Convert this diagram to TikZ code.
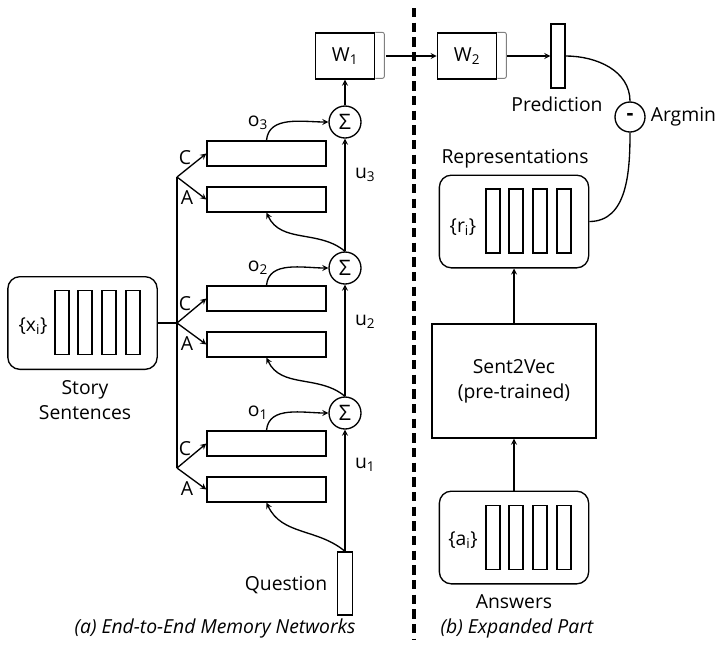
\documentclass[tikz,border=0pt]{standalone}
\usepackage{fontspec}
\setmainfont{Open Sans}
\tikzset{>=stealth}
\usetikzlibrary{positioning}
\tikzset{
        membox/.style={draw,minimum width=89.25pt,minimum height=18.75pt,inner sep=0pt},
        wbox/.style={draw,minimum width=44.5pt,minimum height=34.5pt,inner sep=0pt},
        vbar/.style={draw,minimum width=10.5pt,minimum height=48pt,inner sep=0pt},
        sumnode/.style={draw,circle,minimum size=24pt,inner sep=0pt,font=\fontsize{16}{18}\selectfont},
        setbox/.style={draw,rounded corners=9pt,minimum width=112pt,minimum height=69.5pt,inner sep=0pt},
        bigbox/.style={draw,minimum width=123pt,minimum height=85.5pt,align=center},
        wtail/.style={draw=gray,line width=0.7pt,rounded corners=1.5pt}
}

\begin{document}
\begin{tikzpicture}[x=0.75pt,y=-0.75pt,line width=1pt,
        every node/.style={font=\fontsize{14.5}{18.75}\selectfont}]
        \useasboundingbox (0,0) rectangle (716,644);
        % story sentences
        \node[setbox] (story) at (82.5,323) {};
        \node[vbar] (x1) at (62,322.5) {};
        \node[vbar] (x2) at (85,322.5) {};
        \node[vbar] (x3) at (109,322.5) {};
        \node[vbar] (x4) at (133,322.5) {};
        \node (xi) at (33,326) {\{x\textsubscript{i}\}};
        \node[align=center] (storylab) at (85,400) {Story\\Sentences};
        \coordinate (b3) at (177,177);
        \coordinate (b2) at (177,323);
        \coordinate (b1) at (177,468);
        % memory layers
        \node[membox] (C3) at (266.5,153.5) {};
        \node[membox] (A3) at (266.5,199.5) {};
        \node[membox] (C2) at (266.5,298.5) {};
        \node[membox] (A2) at (266.5,344.5) {};
        \node[membox] (C1) at (266.5,443.5) {};
        \node[membox] (A1) at (266.5,489.5) {};
        \node (c3lab) at (185,158) {C};
        \node (a3lab) at (187,198) {A};
        \node (c2lab) at (185,304) {C};
        \node (a2lab) at (187,344) {A};
        \node (c1lab) at (185,449) {C};
        \node (a1lab) at (187,489) {A};
        \node[sumnode] (s3) at (345,122) {Σ};
        \node[sumnode] (s2) at (345,268) {Σ};
        \node[sumnode] (s1) at (345,413) {Σ};
        \node (o3) at (258,123) {o\textsubscript{3}};
        \node (o2) at (258,268) {o\textsubscript{2}};
        \node (o1) at (258,413) {o\textsubscript{1}};
        \node[anchor=west] (u3) at (350,175) {u\textsubscript{3}};
        \node[anchor=west] (u2) at (350,322) {u\textsubscript{2}};
        \node[anchor=west] (u1) at (350,465) {u\textsubscript{1}};
        \node[vbar,minimum width=11.25pt,minimum height=47.25pt] (quest) at (345,583.5) {};
        \node (questlab) at (286,585) {Question};
        \node[wbox] (w1) at (345,56) {W\textsubscript{1}};
        \draw[wtail] (w1.north east) -- ++(9,0) -- ++(0,46) -- ++(-9,0);
        \draw (story.east) -- (b2);
        \draw (b3) -- (b1);
        \draw[->] (b3) -- (C3.west);
        \draw[->] (b3) -- (A3.west);
        \draw[->] (b2) -- (C2.west);
        \draw[->] (b2) -- (A2.west);
        \draw[->] (b1) -- (C1.west);
        \draw[->] (b1) -- (A1.west);
        \draw[->] (quest.north) -- (s1.south);
        \draw[->] (s1.north) -- (s2.south);
        \draw[->] (s2.north) -- (s3.south);
        \draw[->] (s3.north) -- (w1.south);
        \draw[->] (C3.north) to[out=85,in=180] (s3.west);
        \draw[->] (C2.north) to[out=85,in=180] (s2.west);
        \draw[->] (C1.north) to[out=85,in=180] (s1.west);
        \draw[->] (s2.north) to[out=140,in=-65] (A3.south);
        \draw[->] (s1.north) to[out=140,in=-65] (A2.south);
        \draw[->] (quest.north) to[out=140,in=-65] (A1.south);
        \node (capa) at (215,628) {\itshape (a) End-to-End Memory Networks};
        % divider
        \coordinate (dtop) at (414,8);
        \coordinate (dbot) at (414,640);
        \draw[line width=2.4pt,dash pattern=on 7pt off 4pt] (dtop) -- (dbot);
        % expanded part
        \node[wbox] (w2) at (467,56) {W\textsubscript{2}};
        \draw[wtail] (w2.north east) -- ++(9,0) -- ++(0,46) -- ++(-9,0);
        \node[vbar] (pred) at (558,56) {};
        \node (predlab) at (557,104) {Prediction};
        \node[sumnode,minimum size=22.5pt] (minus) at (630,117) {\bfseries -};
        \node[right=0pt of minus] (argmin) {Argmin};
        \node (replab) at (515,159) {Representations};
        \node[setbox] (rep) at (514,221.5) {};
        \node[vbar] (r1) at (493,221) {};
        \node[vbar] (r2) at (516,221) {};
        \node[vbar] (r3) at (540,221) {};
        \node[vbar] (r4) at (564,221) {};
        \node (ri) at (463,227) {\{r\textsubscript{i}\}};
        \node[bigbox] (s2v) at (514,381) {Sent2Vec\\(pre-trained)};
        \node[setbox] (ans) at (514,537.5) {};
        \node[vbar] (a1) at (493,537.5) {};
        \node[vbar] (a2) at (516,537.5) {};
        \node[vbar] (a3) at (540,537.5) {};
        \node[vbar] (a4) at (564,537.5) {};
        \node (ai) at (463,540) {\{a\textsubscript{i}\}};
        \node (anslab) at (514,602) {Answers};
        \draw[->,shorten <=8pt] (w1.east) -- (w2.west);
        \draw[->,shorten <=7.5pt] (w2.east) -- (pred.west);
        \draw (pred.east) to[out=0,in=90] (minus.north);
        \draw (minus.south) to[out=-90,in=0] (rep.east);
        \draw[->] (s2v.north) -- (rep.south);
        \draw[->] (ans.north) -- (s2v.south);
        \node (capb) at (517,628) {\itshape (b) Expanded Part};
\end{tikzpicture}
\end{document}
